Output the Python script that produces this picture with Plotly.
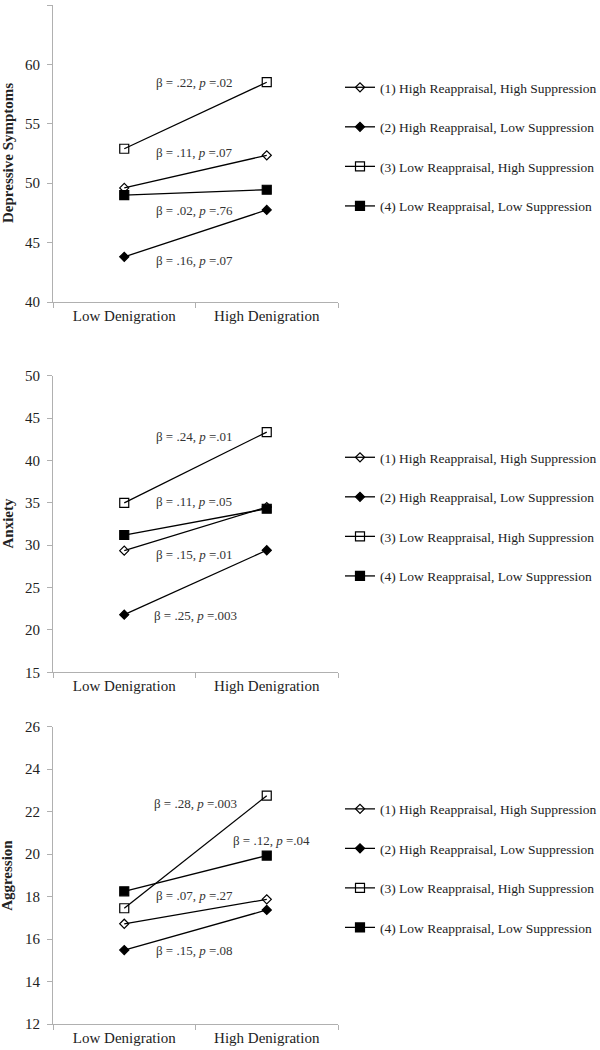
import plotly.graph_objects as go

categories = ["Low Denigration", "High Denigration"]
series_names = [
    "(1) High Reappraisal, High Suppression",
    "(2) High Reappraisal, Low Suppression",
    "(3) Low Reappraisal, High Suppression",
    "(4) Low Reappraisal, Low Suppression",
]

dep_values = [[49.6, 52.35], [43.8, 47.75], [52.9, 58.5], [49.0, 49.45]]
anx_values = [[29.35, 34.5], [21.8, 29.4], [35.0, 43.35], [31.2, 34.3]]
agg_values = [[16.72, 17.87], [15.48, 17.37], [17.45, 22.75], [18.25, 19.93]]

dep_notes = [("β = .22, <i>p</i> =.02", 0.49, 58.5), ("β = .11, <i>p</i> =.07", 0.49, 52.6),
             ("β = .02, <i>p</i> =.76", 0.49, 47.7), ("β = .16, <i>p</i> =.07", 0.49, 43.5)]
anx_notes = [("β = .24, <i>p</i> =.01", 0.49, 42.8), ("β = .11, <i>p</i> =.05", 0.49, 35.2),
             ("β = .15, <i>p</i> =.01", 0.49, 28.85), ("β = .25, <i>p</i> =.003", 0.5, 21.75)]
agg_notes = [("β = .28, <i>p</i> =.003", 0.5, 22.4), ("β = .12, <i>p</i> =.04", 1.035, 20.66),
             ("β = .07, <i>p</i> =.27", 0.49, 18.07), ("β = .15, <i>p</i> =.08", 0.49, 15.45)]

panels = [
    ("Depressive Symptoms", dep_values, dep_notes, [40, 65], 5),
    ("Anxiety", anx_values, anx_notes, [15, 50], 5),
    ("Aggression", agg_values, agg_notes, [12, 26], 2),
]

symbols = ["diamond-open", "diamond", "square-open", "square"]
msizes = [7, 7, 9, 9]

W, H = 600, 1050
ydomains = [(5, 302), (375.7, 672.3), (726.7, 1024)]
legend_centers = [147, 517, 868.5]
xl, xr = 53, 338

FONT = "Liberation Serif, Times New Roman, serif"
fig = go.Figure()

for p, (title, vals, notes, yr, dt) in enumerate(panels):
    idx = "" if p == 0 else str(p + 1)
    lg = "legend" if p == 0 else f"legend{p + 1}"
    for s, name in enumerate(series_names):
        fig.add_trace(go.Scatter(
            x=categories, y=vals[s], name=name, mode="lines+markers",
            xaxis="x" + idx, yaxis="y" + idx, legend=lg,
            legendgroup=f"p{p}s{s}",
            line=dict(color="black", width=1.3),
            marker=dict(symbol=symbols[s], size=msizes[s], color="black",
                        line=dict(color="black", width=1.2)),
        ))
    for text, xv, yv in notes:
        fig.add_annotation(text=text, x=xv, y=yv, xref="x" + idx, yref="y" + idx,
                           showarrow=False, font=dict(family=FONT, size=13, color="#333"))
    top, bot = ydomains[p]
    # y-axis title
    fig.add_annotation(text=f"<b>{title}</b>", x=7.5 / W, y=1 - (top + bot) / 2 / H,
                       xref="paper", yref="paper", textangle=-90, showarrow=False,
                       xanchor="center", yanchor="middle",
                       font=dict(family=FONT, size=15, color="#222"))
    fig.update_layout(**{
        "xaxis" + idx: dict(domain=[xl / W, xr / W], anchor="y" + idx, type="category",
                            range=[-0.5, 1.5], showline=True, linecolor="#b0b0b0", linewidth=1,
                            ticks="outside", tickson="boundaries", ticklen=5, tickcolor="#b0b0b0",
                            showgrid=False, zeroline=False, automargin=False,
                            tickfont=dict(family=FONT, size=15, color="#222")),
        "yaxis" + idx: dict(domain=[1 - bot / H, 1 - top / H], anchor="x" + idx,
                            range=yr, dtick=dt, showline=True, linecolor="#b0b0b0", linewidth=1,
                            ticks="outside", ticklen=5, tickcolor="#b0b0b0",
                            ticklabelstandoff=4,
                            showgrid=False, zeroline=False, automargin=False,
                            tickfont=dict(family=FONT, size=15, color="#222")),
        lg: dict(x=340 / W, y=1 - legend_centers[p] / H, xanchor="left",
                 yanchor="middle", tracegroupgap=19, traceorder="grouped", itemwidth=30,
                 font=dict(family=FONT, size=13.5, color="#222"), bgcolor="rgba(0,0,0,0)"),
    })

fig.update_layout(width=W, height=H, margin=dict(l=0, r=0, t=0, b=0, autoexpand=False),
                  plot_bgcolor="white", paper_bgcolor="white", showlegend=True)

fig.write_html("out.html", config={"displayModeBar": False},
               post_script="document.body.style.margin='0px';")
